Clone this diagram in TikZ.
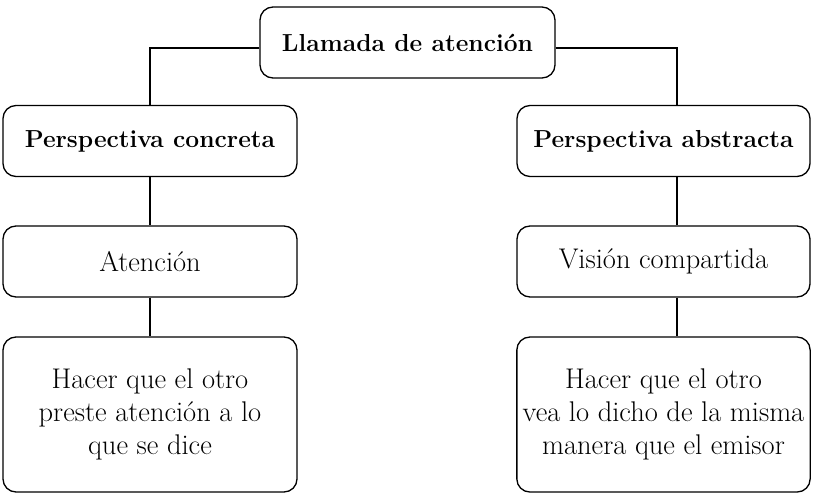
\documentclass[tikz,border=0pt]{standalone}
\usepackage{tikz}
\usetikzlibrary{
	positioning,
}
\tikzset{default box/.style={
	draw,
	rectangle,
	rounded corners=2.6mm,
	line width=0.75pt,
	minimum width=5.88cm,
	minimum height=1.42cm,
	align=center,
	font=\fontsize{16.2}{18.6}\selectfont,
}}
\tikzset{title box/.style={
	default box,
	font=\fontsize{14}{17}\selectfont\bfseries,
}}
\tikzset{tall box/.style={
	default box,
	minimum height=3.1cm,
}}
\tikzset{link/.style={
	line width=0.75pt,
}}

\begin{document}
\begin{tikzpicture}[every node/.style={default box}]

\useasboundingbox (0,0) rectangle (16.3,-9.86);

\node[title box, minimum width=5.9cm](top) 	at (8.15,-0.85) {Llamada de atención};

\node[title box](pc) 	at (3.0,-2.82) {Perspectiva concreta};
\node(at) 				at (3.0,-5.23) {Atención};
\node[tall box](hl) 	at (3.0,-8.29) {Hacer que el otro\\preste atención a lo\\que se dice};

\node[title box, minimum width=5.86cm](pa) 	at (13.27,-2.82) {Perspectiva abstracta};
\node[minimum width=5.86cm](vc) 			at (13.27,-5.23) {Visión compartida};
\node[tall box, minimum width=5.86cm](hr) 	at (13.27,-8.29) {Hacer que el otro\\vea lo dicho de la misma\\manera que el emisor};

% top -> left
\draw[link] ([yshift=-1.1mm]top.west) -| (pc.north);
\draw[link] (pc) -- (at);
\draw[link] (at) -- (hl);

% top -> right
\draw[link] ([yshift=-1.1mm]top.east) -| ([xshift=2.7mm]pa.north);
\draw[link] ([xshift=2.7mm]pa.south) -- ([xshift=2.7mm]vc.north);
\draw[link] ([xshift=2.7mm]vc.south) -- ([xshift=2.7mm]hr.north);

\end{tikzpicture}
\end{document}
